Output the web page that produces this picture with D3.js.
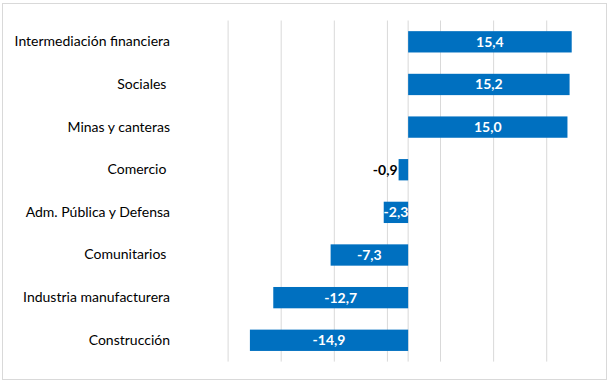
<!DOCTYPE html>
<html><head><meta charset="utf-8">
<script src="https://cdn.jsdelivr.net/npm/d3@7"></script>
<style>
html,body{margin:0;padding:0;background:#fff;}
text{font-family:"Lato","Open Sans",sans-serif;}
</style></head>
<body>
<svg id="c" width="611" height="381"></svg>
<script>
const categories = ["Intermediación financiera","Sociales ","Minas y canteras","Comercio ","Adm. Pública y Defensa","Comunitarios ","Industria manufacturera","Construcción"];
const values = [15.4, 15.2, 15.0, -0.9, -2.3, -7.3, -12.7, -14.9];
const gridTicks = [-17, -12, -7, -2, 3, 8, 13];
const fmt = v => d3.format(".1f")(v).replace(".", ",").replace("\u2212", "-");

const svg = d3.select("#c");
svg.append("rect").attr("x",2.5).attr("y",3.5).attr("width",604).attr("height",376)
  .attr("fill","#fff").attr("stroke","#d9d9d9").attr("stroke-width",1);

const x = d3.scaleLinear().domain([-17, 17]).range([227.6, 588.7]);
const y = d3.scaleBand().domain(categories).range([20.5, 361.6]).paddingInner(0.5).paddingOuter(0.25);

const grid = svg.append("g")
  .attr("transform","translate(0,361.6)")
  .call(d3.axisBottom(x).tickValues(gridTicks).tickSize(-(361.6-20.5)).tickFormat(""));
grid.select(".domain").remove();
grid.selectAll(".tick line").attr("stroke","#d9d9d9").attr("stroke-width",1);

svg.append("line").attr("x1",x(0)).attr("x2",x(0)).attr("y1",20.5).attr("y2",361.6)
  .attr("stroke","#d9d9d9").attr("stroke-width",1);

const data = categories.map((c,i)=>({c, v: values[i]}));
svg.append("g").selectAll("rect").data(data).join("rect")
  .attr("x", d => x(Math.min(0,d.v)))
  .attr("width", d => Math.abs(x(d.v)-x(0)))
  .attr("y", d => y(d.c))
  .attr("height", y.bandwidth())
  .attr("fill","#0070c0");

const yAxis = svg.append("g").attr("transform","translate(170,0)")
  .call(d3.axisLeft(y).tickSize(0).tickPadding(0));
yAxis.select(".domain").remove();
yAxis.selectAll("text").attr("font-family","Lato, 'Open Sans', sans-serif").attr("font-size",14)
  .attr("fill","#000").style("white-space","pre");

svg.append("g").selectAll("text").data(data).join("text")
  .attr("x", d => Math.abs(d.v) < 2 ? x(d.v) - 1 : (x(d.v)+x(0))/2)
  .attr("y", d => y(d.c) + y.bandwidth()/2)
  .attr("dy","0.36em")
  .attr("text-anchor", d => Math.abs(d.v) < 2 ? "end" : "middle")
  .attr("font-size",14).attr("font-weight","bold")
  .attr("fill", d => Math.abs(d.v) < 2 ? "#000" : "#fff")
  .text(d => fmt(d.v));
</script>
</body></html>
